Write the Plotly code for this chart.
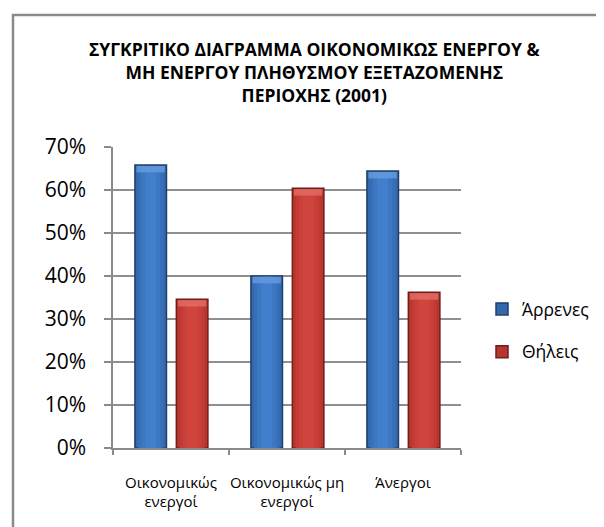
import plotly.graph_objects as go

categories = ["Οικονομικώς<br>ενεργοί", "Οικονομικώς μη<br>ενεργοί", "Άνεργοι"]
series_names = ["Άρρενες", "Θήλεις"]
male_values = [0.658, 0.400, 0.644]
female_values = [0.346, 0.604, 0.362]
y_ticks = [0, 0.1, 0.2, 0.3, 0.4, 0.5, 0.6, 0.7]
title_text = ("ΣΥΓΚΡΙΤΙΚΟ ΔΙΑΓΡΑΜΜΑ ΟΙΚΟΝΟΜΙΚΩΣ ΕΝΕΡΓΟΥ &<br>"
              "ΜΗ ΕΝΕΡΓΟΥ ΠΛΗΘΥΣΜΟΥ ΕΞΕΤΑΖΟΜΕΝΗΣ<br>ΠΕΡΙΟΧΗΣ (2001)")

OFF = 8  # page body margin
W, H = 604 - OFF, 527 - OFF
# plot area in page pixels
L, R, T, B = 113, 461, 147, 448

BAR_W = 0.272
centers = {"Άρρενες": -0.175, "Θήλεις": 0.182}
styles = {
    "Άρρενες": dict(base="#3468ad", edge="#1f3f6c",
                    layers=[(0.80, "#386fb8"), (0.60, "#3c77c3"), (0.35, "#417ecb")],
                    top="#6a9fe0"),
    "Θήλεις": dict(base="#b8352f", edge="#6e1f1c",
                   layers=[(0.80, "#c13a34"), (0.60, "#c93f39"), (0.35, "#cf453e")],
                   top="#e6706a"),
}

fig = go.Figure()
data = {"Άρρενες": male_values, "Θήλεις": female_values}
for gi, name in enumerate(series_names):
    vals = data[name]
    st = styles[name]
    c = centers[name]
    fig.add_trace(go.Bar(
        x=categories, y=vals, name=name, width=BAR_W, offset=c - BAR_W / 2,
        marker=dict(color=st["base"], line=dict(color=st["edge"], width=1.5)),
        legendgroup=name, showlegend=True, hoverinfo="skip"))
    for frac, col in st["layers"]:
        w = BAR_W * frac
        fig.add_trace(go.Bar(
            x=categories, y=[v - 0.002 for v in vals], name=name, width=w, offset=c - w / 2,
            marker=dict(color=col, line=dict(width=0)),
            legendgroup=name, showlegend=False, hoverinfo="skip"))
    bev = 0.015
    w = BAR_W * 0.9
    fig.add_trace(go.Bar(
        x=categories, y=[bev] * len(vals), base=[v - bev - 0.002 for v in vals],
        width=w, offset=c - w / 2,
        marker=dict(color=st["top"], line=dict(width=0), opacity=0.75),
        legendgroup=name, showlegend=False, hoverinfo="skip"))

def px_x(px):
    return (px - L) / (R - L)

def px_y(py):
    return (B - py) / (B - T)

fig.add_shape(type="rect", xref="paper", yref="paper",
              x0=px_x(13), x1=px_x(640), y0=px_y(15), y1=px_y(560),
              line=dict(color="#8a8a8a", width=2.5), layer="below")

fig.add_annotation(text=title_text, xref="paper", yref="paper",
                   x=px_x(314), y=px_y(72), xanchor="center", yanchor="middle",
                   showarrow=False, align="center",
                   font=dict(family="Open Sans", size=17.5, color="#000", weight="bold"))

fig.update_layout(
    width=W, height=H,
    margin=dict(l=L - OFF, r=W - (R - OFF), t=T - OFF, b=H - (B - OFF), pad=0,
                autoexpand=False),
    paper_bgcolor="white", plot_bgcolor="white",
    barmode="overlay",
    font=dict(family="Open Sans", color="#000"),
    legend=dict(x=px_x(482), y=px_y(291), xanchor="left", yanchor="top",
                font=dict(size=17.5, family="Open Sans"), tracegroupgap=17,
                bgcolor="rgba(0,0,0,0)", itemwidth=30),
    showlegend=True,
)
fig.update_xaxes(
    type="category", tickson="boundaries", ticks="outside", ticklen=5,
    tickcolor="#8a8a8a", tickwidth=1.5, showline=True, linecolor="#8a8a8a",
    linewidth=1.5, showgrid=False, tickfont=dict(size=15, family="Open Sans"),
    ticklabelstandoff=20, range=[-0.5, 2.5], tickangle=0, automargin=False)
fig.update_yaxes(
    range=[0, 0.7], tickvals=y_ticks, tickformat=".0%", ticks="outside", ticklen=7,
    tickcolor="#8a8a8a", tickwidth=1.5, showline=True, linecolor="#8a8a8a",
    linewidth=1.5, showgrid=True, gridcolor="#8f8f8f", gridwidth=1.5,
    zeroline=False, tickfont=dict(size=21, family="Open Sans"),
    ticklabelstandoff=14, automargin=False)

fig.write_html("out.html")
